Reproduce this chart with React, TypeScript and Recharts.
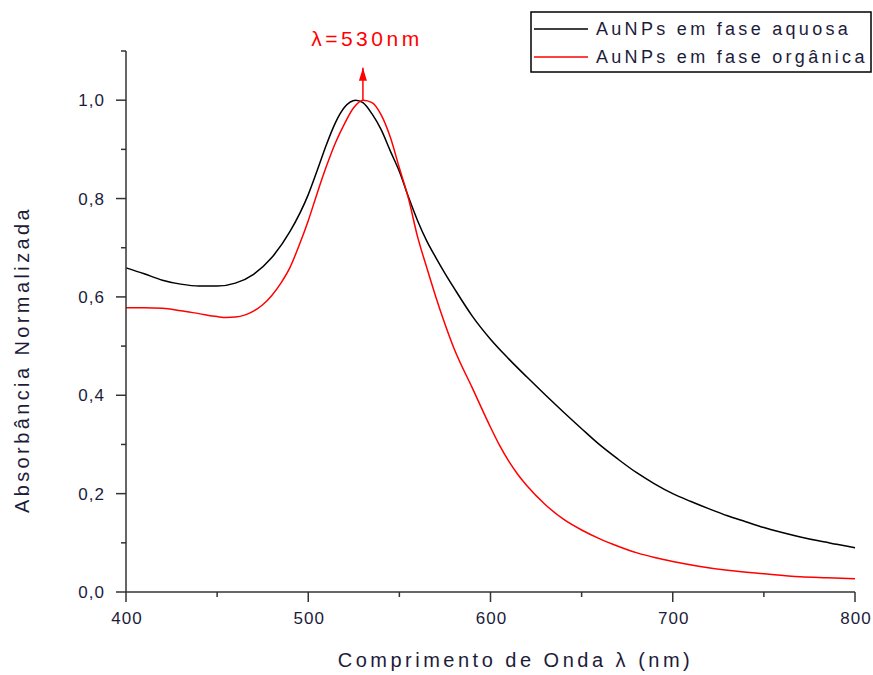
import { LineChart, Line, XAxis, YAxis, ReferenceLine } from 'recharts';

// Normalised UV-Vis absorbance of gold nanoparticles, 400–800 nm
const aquosaWavelength = [
  400, 410, 420, 430, 440, 450, 460, 470, 480, 490, 500, 505, 510, 515, 520, 526, 530, 535,
  540, 545, 550, 555, 560, 565, 570, 575, 580, 590, 600, 610, 620, 630, 640, 650, 660, 670,
  680, 690, 700, 710, 720, 730, 740, 750, 760, 770, 780, 790, 800,
];
const aquosaAbs = [
  0.659, 0.647, 0.634, 0.626, 0.622, 0.622, 0.628, 0.646, 0.68, 0.733, 0.808, 0.858, 0.91,
  0.955, 0.986, 1.0, 0.995, 0.972, 0.94, 0.897, 0.855, 0.803, 0.755, 0.714, 0.68, 0.648,
  0.618, 0.561, 0.514, 0.474, 0.437, 0.401, 0.366, 0.332, 0.299, 0.27, 0.243, 0.22, 0.2,
  0.184, 0.169, 0.155, 0.143, 0.131, 0.121, 0.112, 0.104, 0.097, 0.09,
];

const organicaWavelength = [
  400, 410, 420, 430, 440, 450, 455, 460, 465, 470, 475, 480, 485, 490, 495, 500, 505, 510,
  515, 520, 525, 530, 535, 540, 545, 550, 555, 560, 565, 570, 575, 580, 590, 600, 605, 610,
  615, 620, 630, 640, 650, 660, 670, 680, 690, 700, 715, 730, 750, 770, 785, 800,
];
const organicaAbs = [
  0.578, 0.578, 0.577, 0.572, 0.566, 0.56, 0.558, 0.559, 0.563, 0.571, 0.584, 0.603, 0.628,
  0.66, 0.705, 0.755, 0.812, 0.866, 0.914, 0.953, 0.985, 1.0, 0.995, 0.97, 0.925, 0.862, 0.8,
  0.722, 0.66, 0.6, 0.545, 0.495, 0.415, 0.335, 0.298, 0.266, 0.239, 0.216, 0.178, 0.148,
  0.126, 0.108, 0.093, 0.08, 0.07, 0.062, 0.052, 0.044, 0.037, 0.031, 0.029, 0.027,
];

const xTicks = [400, 450, 500, 550, 600, 650, 700, 750, 800];
const xMajor = [400, 500, 600, 700, 800];
const yTicks = [0, 0.1, 0.2, 0.3, 0.4, 0.5, 0.6, 0.7, 0.8, 0.9, 1.0, 1.1];
const yMajor = [0, 0.2, 0.4, 0.6, 0.8, 1.0];

const peakWavelength = 530;
const peakLabel = 'λ=530nm';

const seriesNames = ['AuNPs em fase aquosa', 'AuNPs em fase orgânica'];
const seriesColors = ['#000000', '#ff0000'];

const aquosa = aquosaWavelength.map((w, i) => ({ w, a: aquosaAbs[i] }));
const organica = organicaWavelength.map((w, i) => ({ w, a: organicaAbs[i] }));

const FONT = '"Liberation Sans", Arial, sans-serif';
const AXIS = '#333333';
const TEXT = '#1c1c3a';

const isMajor = (list: number[], v: number) => list.some((m) => Math.abs(m - v) < 1e-6);

function XTick(props: any) {
  const { x, y, payload } = props;
  const major = isMajor(xMajor, payload.value);
  return (
    <g>
      <line x1={x} x2={x} y1={y} y2={y + (major ? 10 : 5)} stroke={AXIS} strokeWidth={1.5} />
      {major && (
        <text x={x + 1} y={y + 32} textAnchor="middle" fontSize={17} fill={TEXT} fontFamily={FONT} letterSpacing={1}>
          {payload.value}
        </text>
      )}
    </g>
  );
}

function YTick(props: any) {
  const { x, y, payload } = props;
  const major = isMajor(yMajor, payload.value);
  return (
    <g>
      <line x1={x - (major ? 10 : 5)} x2={x} y1={y} y2={y} stroke={AXIS} strokeWidth={1.5} />
      {major && (
        <text x={x - 21} y={y + 6} textAnchor="end" fontSize={17} fill={TEXT} fontFamily={FONT} letterSpacing={1}>
          {payload.value.toFixed(1).replace('.', ',')}
        </text>
      )}
    </g>
  );
}

// legend box, top right corner
function LegendBox() {
  return (
    <svg width={342} height={62} style={{ position: 'absolute', left: 530, top: 11 }}>
      <rect x={1} y={1} width={340} height={60} fill="#fff" stroke="#000" strokeWidth={1.5} />
      {seriesNames.map((name, i) => (
        <g key={name}>
          <line x1={4} x2={58} y1={18 + i * 28} y2={18 + i * 28} stroke={seriesColors[i]} strokeWidth={1.5} />
          <text x={66} y={24 + i * 28} fontSize={18} fill={TEXT} fontFamily={FONT} letterSpacing={3.3}>
            {name}
          </text>
        </g>
      ))}
    </svg>
  );
}

function PeakMarker(props: any) {
  const { viewBox } = props;
  const cx = viewBox.x;
  const top = viewBox.y;
  return (
    <g>
      <polygon points={`${cx},${top} ${cx - 4},${top + 13} ${cx + 4},${top + 13}`} fill="#ff0000" />
      <text x={cx + 4} y={top - 22} textAnchor="middle" fontSize={21} fill="#ff0000" fontFamily={FONT} letterSpacing={3.5}>
        {peakLabel}
      </text>
    </g>
  );
}

export default function App() {
  return (
    <div style={{ position: 'absolute', left: 0, top: 0, width: 873, height: 675, background: '#fff' }}>
      <LineChart width={873} height={675} margin={{ top: 51, right: 18, bottom: 53, left: 0 }}>
        <XAxis
          type="number"
          dataKey="w"
          domain={[400, 800]}
          ticks={xTicks}
          interval={0}
          tickSize={0}
          tickMargin={0}
          tickLine={false}
          tick={<XTick />}
          axisLine={{ stroke: AXIS, strokeWidth: 1.5 }}
          allowDuplicatedCategory={false}
          label={{
            content: ({ viewBox }: any) => (
              <text
                x={viewBox.x + viewBox.width / 2 + 25}
                y={viewBox.y + 75}
                textAnchor="middle"
                fontSize={20}
                fill={TEXT}
                fontFamily={FONT}
                letterSpacing={3.5}
              >
                Comprimento de Onda λ (nm)
              </text>
            ),
          }}
        />
        <YAxis
          type="number"
          dataKey="a"
          width={126}
          domain={[0, 1.1]}
          ticks={yTicks}
          interval={0}
          tickSize={0}
          tickMargin={0}
          tickLine={false}
          tick={<YTick />}
          axisLine={{ stroke: AXIS, strokeWidth: 1.5 }}
          label={{
            content: ({ viewBox }: any) => {
              const cx = viewBox.x + 29;
              const cy = viewBox.y + viewBox.height / 2 + 38;
              return (
                <text
                  x={cx}
                  y={cy}
                  transform={`rotate(-90 ${cx} ${cy})`}
                  textAnchor="middle"
                  fontSize={20}
                  fill={TEXT}
                  fontFamily={FONT}
                  letterSpacing={3.4}
                >
                  Absorbância Normalizada
                </text>
              );
            },
          }}
        />
        <Line
          data={aquosa}
          dataKey="a"
          name={seriesNames[0]}
          type="monotone"
          stroke={seriesColors[0]}
          strokeWidth={1.5}
          dot={false}
          activeDot={false}
          isAnimationActive={false}
        />
        <Line
          data={organica}
          dataKey="a"
          name={seriesNames[1]}
          type="monotone"
          stroke={seriesColors[1]}
          strokeWidth={1.5}
          dot={false}
          activeDot={false}
          isAnimationActive={false}
        />
        <ReferenceLine
          segment={[
            { x: peakWavelength, y: 1.0 },
            { x: peakWavelength, y: 1.066 },
          ]}
          stroke="#ff0000"
          strokeWidth={1.5}
          ifOverflow="visible"
          label={<PeakMarker />}
        />
      </LineChart>
      <LegendBox />
    </div>
  );
}
